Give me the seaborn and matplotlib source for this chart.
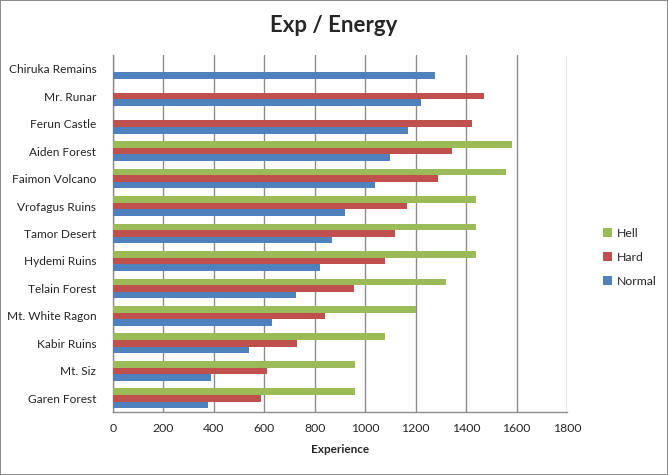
import matplotlib
matplotlib.use("Agg")
import matplotlib.pyplot as plt
import seaborn as sns
import pandas as pd
import numpy as np

categories = ["Chiruka Remains", "Mr. Runar", "Ferun Castle", "Aiden Forest",
              "Faimon Volcano", "Vrofagus Ruins", "Tamor Desert", "Hydemi Ruins",
              "Telain Forest", "Mt. White Ragon", "Kabir Ruins", "Mt. Siz", "Garen Forest"]
hell = [np.nan, np.nan, np.nan, 1580, 1560, 1440, 1440, 1440, 1320, 1200, 1080, 960, 960]
hard = [np.nan, 1470, 1425, 1345, 1290, 1165, 1120, 1080, 955, 840, 730, 610, 585]
normal = [1275, 1220, 1170, 1100, 1040, 920, 870, 820, 725, 630, 540, 390, 375]
series = ["Hell", "Hard", "Normal"]
colors = ["#9BBB59", "#C0504D", "#4F81BD"]
xticks = [0, 200, 400, 600, 800, 1000, 1200, 1400, 1600, 1800]

rows = []
for s, vals in zip(series, [hell, hard, normal]):
    for c, v in zip(categories, vals):
        rows.append({"Area": c, "Mode": s, "Experience": v})
df = pd.DataFrame(rows)

sns.set_style("white")
plt.rcParams["font.family"] = ["Lato", "DejaVu Sans"]

fig = plt.figure(figsize=(6.68, 4.75), dpi=100, linewidth=1.2, edgecolor="#8c8c8c")
ax = fig.add_axes([113 / 668, 1 - 412 / 475, 454 / 668, 357 / 475])

sns.barplot(data=df, y="Area", x="Experience", hue="Mode", order=categories,
            hue_order=series, palette=colors, orient="h", width=0.72,
            saturation=1, errorbar=None, linewidth=0, ax=ax, zorder=3)

ax.set_xlim(0, 1800)
ax.set_xticks(xticks)
ax.set_xticklabels([str(t) for t in xticks], fontsize=8.8)
ax.tick_params(axis="y", labelsize=8.6, length=0, pad=12)
ax.tick_params(axis="x", length=0, pad=8)
ax.grid(axis="x", color="#8c8c8c", linewidth=1.0, zorder=0)
ax.set_axisbelow(True)
ax.set_ylabel("")
ax.set_xlabel("Experience", fontsize=8.5, fontweight="bold", labelpad=7)
for side in ["top", "right"]:
    ax.spines[side].set_visible(False)
for side in ["left", "bottom"]:
    ax.spines[side].set_color("#8c8c8c")
    ax.spines[side].set_linewidth(1.0)
for lab in ax.get_yticklabels():
    lab.set_horizontalalignment("right")

handles, labels = ax.get_legend_handles_labels()
ax.legend(handles, labels, loc="center left", bbox_to_anchor=(603 / 668, 1 - 257.5 / 475),
          bbox_transform=fig.transFigure, frameon=False, fontsize=8.8,
          handlelength=0.75, handleheight=0.75, handletextpad=0.35, labelspacing=1.05,
          borderaxespad=0, borderpad=0)

fig.text(0.5, 1 - 26 / 475, "Exp / Energy", ha="center", va="center",
         fontsize=16, fontweight="bold")

fig.savefig("out.png", dpi=100, edgecolor=fig.get_edgecolor())
